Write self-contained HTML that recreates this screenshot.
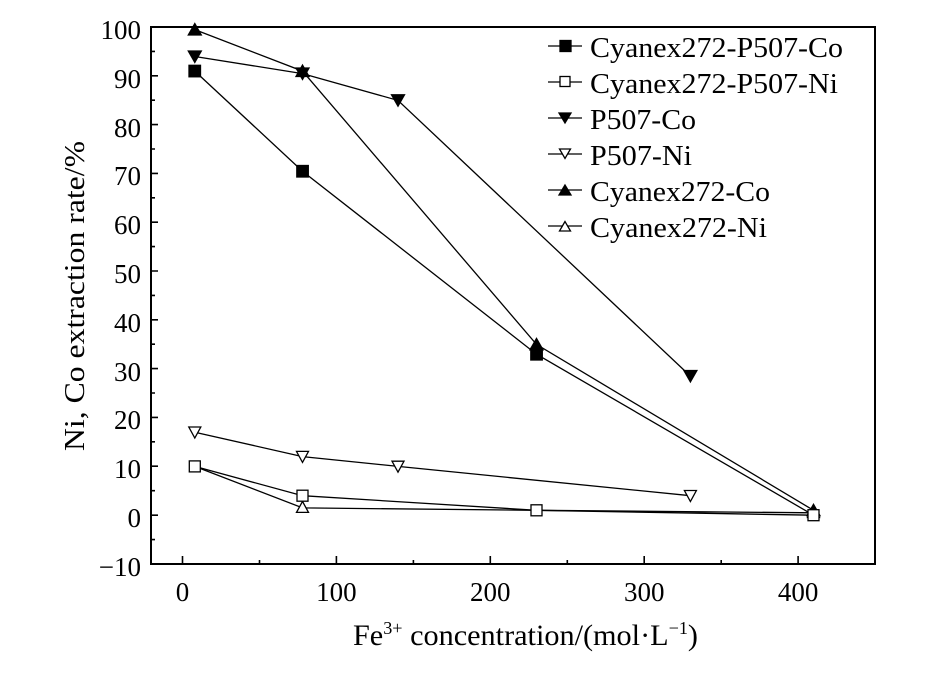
<!DOCTYPE html>
<html><head><meta charset="utf-8"><style>
body{margin:0;background:#fff}
svg text{font-family:"Liberation Serif",serif;fill:#000}
</style></head><body>
<svg width="926" height="677" viewBox="0 0 926 677" xmlns="http://www.w3.org/2000/svg">
<rect width="926" height="677" fill="#fff"/>
<g stroke="#000" stroke-width="1.3" fill="none">
<polyline points="194.8,71.1 302.5,171.2 536.5,354.2 813.5,515.2"/>
<polyline points="194.8,466.4 302.5,495.7 536.5,510.3 813.5,515.2"/>
<polyline points="194.8,56.5 302.5,73.6 398,100.4 690.4,376.1"/>
<polyline points="194.8,432.2 302.5,456.6 398,466.4 690.4,495.7"/>
<polyline points="194.8,29.6 302.5,71.1 536.5,344.4 813.5,510.3"/>
<polyline points="194.8,466.4 302.5,507.9 536.5,510.3 813.5,512.8"/>
</g>
<g stroke="#000" stroke-width="1.3">
<g fill="#000">
<rect x="189" y="65.3" width="11.5" height="11.5"/><rect x="296.8" y="165.5" width="11.5" height="11.5"/><rect x="530.8" y="348.5" width="11.5" height="11.5"/>
</g>
<g fill="#fff">
<polygon points="302.5,501.4 296.5,512.4 308.5,512.4"/>
<polygon points="813.5,506.5 807.5,517.5 819.5,517.5"/>
</g>
<g fill="#000">
<polygon points="194.8,23.6 188.3,35 201.3,35"/><polygon points="302.5,65.1 296,76.5 309,76.5"/><polygon points="536.5,338.4 530,349.8 543,349.8"/><polygon points="813.5,504.3 807,515.7 820,515.7"/>
</g>
<g fill="#000">
<polygon points="188.3,51 201.3,51 194.8,62.4"/><polygon points="296,68 309,68 302.5,79.4"/><polygon points="391.5,94.8 404.5,94.8 398,106.2"/><polygon points="683.9,370.5 696.9,370.5 690.4,381.9"/>
</g>
<g fill="#fff">
<polygon points="188.8,427 200.8,427 194.8,438"/><polygon points="296.5,451.4 308.5,451.4 302.5,462.4"/><polygon points="392,461.2 404,461.2 398,472.2"/><polygon points="684.4,490.5 696.4,490.5 690.4,501.5"/>
</g>
<g fill="#fff">
<rect x="189.3" y="460.9" width="11" height="11"/><rect x="297" y="490.2" width="11" height="11"/><rect x="531" y="504.8" width="11" height="11"/><rect x="808" y="509.7" width="11" height="11"/>
</g>
</g>
<rect x="151" y="27" width="724" height="537" fill="none" stroke="#000" stroke-width="2"/>
<g stroke="#000" stroke-width="1.6">
<path d="M151,27h7M151,75.8h7M151,124.6h7M151,173.4h7M151,222.2h7M151,271h7M151,319.8h7M151,368.6h7M151,417.4h7M151,466.2h7M151,515.2h7"/>
<path d="M151,51.4h4M151,100.2h4M151,149h4M151,197.8h4M151,246.6h4M151,295.4h4M151,344.2h4M151,393h4M151,441.8h4M151,490.7h4M151,539.6h4"/>
<path d="M182.5,564v-8M336.4,564v-8M490.3,564v-8M644.2,564v-8M798.1,564v-8"/>
<path d="M259.5,564v-4M413.4,564v-4M567.3,564v-4M721.2,564v-4"/>
</g>
<g font-size="27" text-anchor="end">
<text x="141" y="39">100</text><text x="141" y="88">90</text><text x="141" y="137">80</text><text x="141" y="185">70</text><text x="141" y="234">60</text><text x="141" y="283">50</text><text x="141" y="332">40</text><text x="141" y="381">30</text><text x="141" y="429">20</text><text x="141" y="478">10</text><text x="141" y="527">0</text><text x="141" y="576">−10</text>
</g>
<g font-size="27" text-anchor="middle">
<text x="182.5" y="601">0</text><text x="336.4" y="601">100</text><text x="490.3" y="601">200</text><text x="644.2" y="601">300</text><text x="798.1" y="601">400</text>
</g>
<text x="353" y="645" font-size="30" textLength="345" lengthAdjust="spacingAndGlyphs">Fe<tspan font-size="18" dy="-11">3+</tspan><tspan dy="11"> concentration/(mol·L</tspan><tspan font-size="18" dy="-11">−1</tspan><tspan dy="11">)</tspan></text>
<text transform="translate(84,296) rotate(-90)" font-size="29" text-anchor="middle" textLength="310" lengthAdjust="spacingAndGlyphs">Ni, Co extraction rate/%</text>
<g stroke="#000" stroke-width="1.3">
<path d="M548,46h34M548,82h34M548,118h34M548,154h34M548,190h34M548,226h34"/>
<rect x="560" y="40.5" width="11" height="11" fill="#000"/>
<rect x="560" y="76.5" width="10" height="10" fill="#fff"/>
<polygon points="559,113 571,113 565,123" fill="#000"/>
<polygon points="559.5,149 570.5,149 565,158.5" fill="#fff"/>
<polygon points="565,185 559,195 571,195" fill="#000"/>
<polygon points="565,221.5 559.5,231 570.5,231" fill="#fff"/>
</g>
<g font-size="28">
<text x="590" y="57" textLength="253" lengthAdjust="spacingAndGlyphs">Cyanex272-P507-Co</text>
<text x="590" y="93" textLength="248" lengthAdjust="spacingAndGlyphs">Cyanex272-P507-Ni</text>
<text x="590" y="129" textLength="106" lengthAdjust="spacingAndGlyphs">P507-Co</text>
<text x="590" y="165" textLength="102" lengthAdjust="spacingAndGlyphs">P507-Ni</text>
<text x="590" y="201" textLength="180" lengthAdjust="spacingAndGlyphs">Cyanex272-Co</text>
<text x="590" y="237" textLength="177" lengthAdjust="spacingAndGlyphs">Cyanex272-Ni</text>
</g>
</svg>
</body></html>
